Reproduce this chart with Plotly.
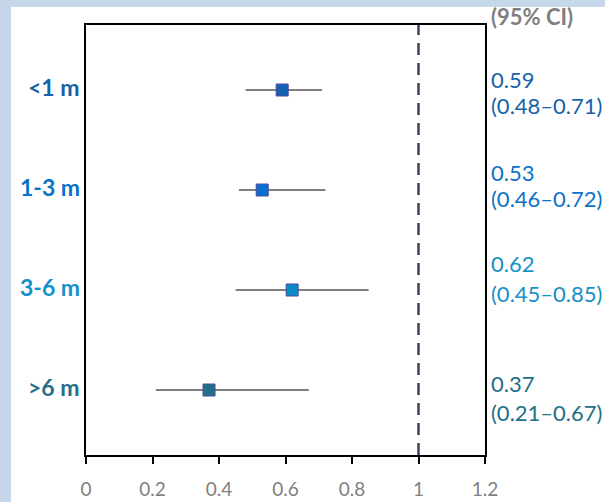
import plotly.graph_objects as go

categories = ["<1 m", "1-3 m", "3-6 m", ">6 m"]
hr = [0.59, 0.53, 0.62, 0.37]
ci_low = [0.48, 0.46, 0.45, 0.21]
ci_high = [0.71, 0.72, 0.85, 0.67]
val_text = ["0.59", "0.53", "0.62", "0.37"]
ci_text = ["(0.48–0.71)", "(0.46–0.72)", "(0.45–0.85)", "(0.21–0.67)"]
label_colors = ["#1562aa", "#0b72c8", "#1590c8", "#236e88"]
marker_colors = ["#1562b0", "#0a70d0", "#0a8cc8", "#226f88"]
x_ticks = [0, 0.2, 0.4, 0.6, 0.8, 1, 1.2]
x_ticklabels = ["0", "0.2", "0.4", "0.6", "0.8", "1", "1.2"]
header = "(95% CI)"

ypos = list(range(len(categories)))

fig = go.Figure()
fig.add_trace(go.Scatter(
    x=hr, y=ypos, mode="markers",
    marker=dict(symbol="square", size=12, color=marker_colors,
                line=dict(color="#4b4aa0", width=1)),
    error_x=dict(type="data", symmetric=False,
                 array=[h - v for h, v in zip(ci_high, hr)],
                 arrayminus=[v - l for v, l in zip(hr, ci_low)],
                 color="#808080", thickness=2, width=0),
    showlegend=False, hoverinfo="skip",
))

font = "Lato"
annotations = []
for i, (c, col) in enumerate(zip(categories, label_colors)):
    annotations.append(dict(x=0, xref="paper", y=i - 0.03, yref="y", text="<b>%s</b>" % c,
                            xanchor="right", yanchor="middle", xshift=-4, showarrow=False,
                            font=dict(family=font, size=23, color=col)))
val_offsets = [-0.11, -0.18, -0.27, -0.07]
ci_offsets = [0.15, 0.08, 0.03, 0.22]
for i in range(len(categories)):
    annotations.append(dict(x=1, xref="paper", y=i + val_offsets[i], yref="y", text=val_text[i],
                            xanchor="left", yanchor="middle", xshift=4, showarrow=False,
                            font=dict(family=font, size=22, color=label_colors[i])))
    annotations.append(dict(x=1, xref="paper", y=i + ci_offsets[i], yref="y", text=ci_text[i],
                            xanchor="left", yanchor="middle", xshift=4, showarrow=False,
                            font=dict(family=font, size=22, color=label_colors[i])))
annotations.append(dict(x=1, xref="paper", y=1.02, yref="paper", text="<b>%s</b>" % header,
                        xanchor="left", yanchor="middle", xshift=4, showarrow=False,
                        font=dict(family=font, size=22, color="#7f7f7f")))

shapes = [
    dict(type="rect", xref="paper", yref="paper", x0=-0.188, x1=1.5, y0=-0.3, y1=1.0419,
         fillcolor="white", line=dict(width=0), layer="below"),
    dict(type="line", xref="x", yref="paper", x0=1, x1=1, y0=0, y1=1,
         line=dict(color="#3b4558", width=2.5, dash="12px,8px")),
]

fig.update_layout(
    width=605, height=502,
    margin=dict(l=86, r=120, t=25, b=47, autoexpand=False),
    paper_bgcolor="#c5d7e8", plot_bgcolor="white",
    annotations=annotations, shapes=shapes,
    xaxis=dict(range=[0, 1.2], tickvals=x_ticks, ticktext=x_ticklabels, automargin=False,
               showgrid=False, zeroline=False, showline=True, linecolor="black", linewidth=2,
               mirror=True, ticks="outside", ticklen=7, tickcolor="black", tickwidth=1.5,
               ticklabelstandoff=9,
               tickfont=dict(family=font, size=19, color="#808080")),
    yaxis=dict(range=[3.65, -0.65], showgrid=False, zeroline=False, showline=True, automargin=False,
               linecolor="black", linewidth=2, mirror=True, showticklabels=False, ticks=""),
)

fig.write_html("out.html", config={"displayModeBar": False},
               post_script="document.body.style.margin='0';document.body.style.overflow='hidden';")
